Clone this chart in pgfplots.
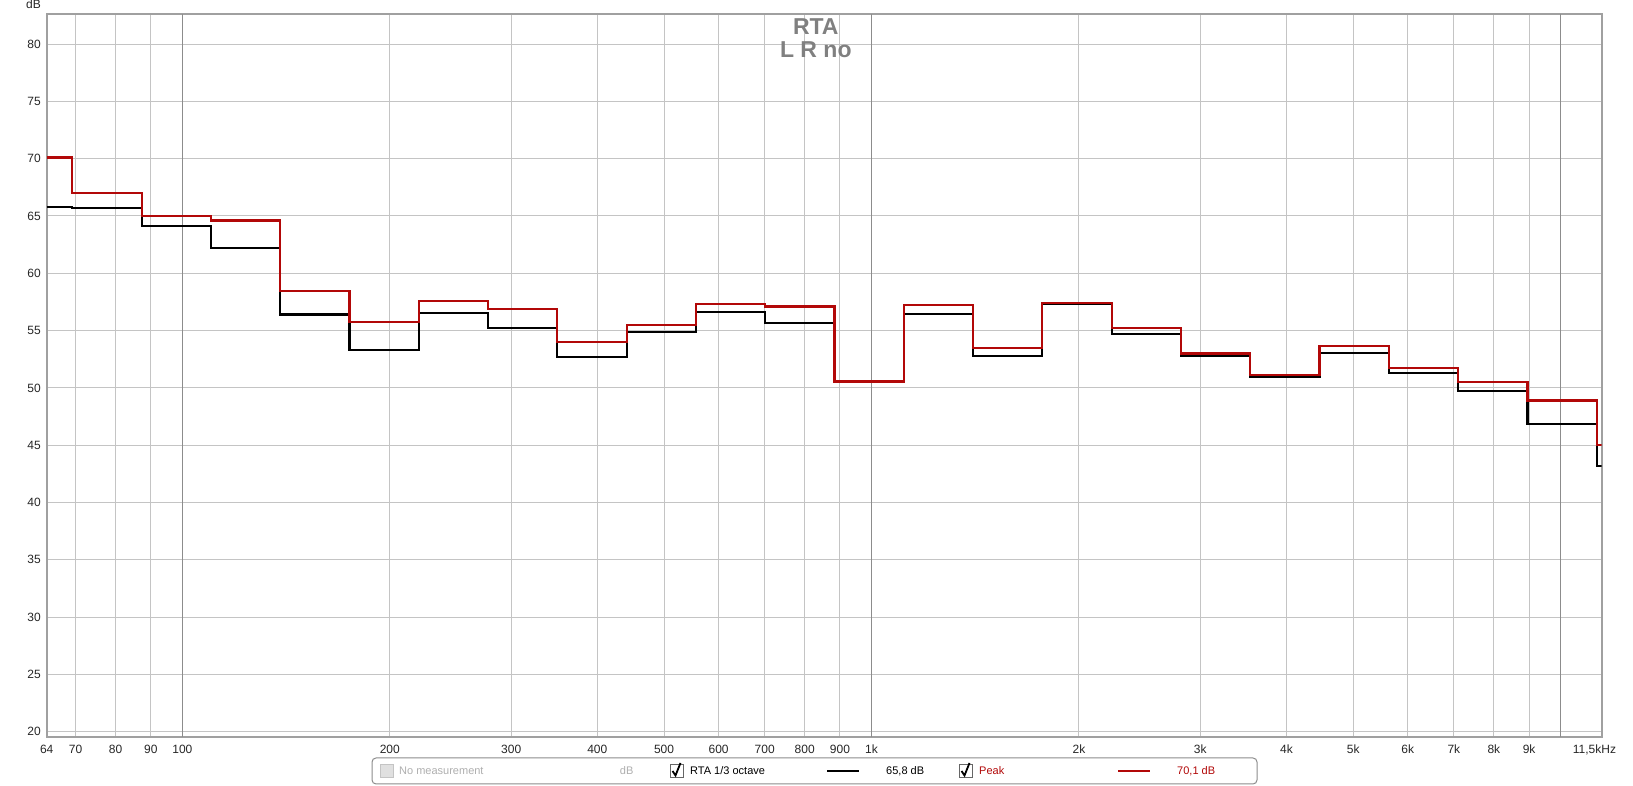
\documentclass[border=0pt]{standalone}
\usepackage{pgfplots}
\pgfplotsset{compat=1.18}
\usepackage{fontspec}
\setmainfont{Liberation Sans}

\definecolor{gridlight}{RGB}{196,196,196}
\definecolor{griddark}{RGB}{140,140,140}
\definecolor{frame}{RGB}{160,160,160}
\definecolor{peakred}{RGB}{178,8,8}
\definecolor{titlegray}{RGB}{128,128,128}
\definecolor{dimgray}{RGB}{175,175,175}

% 1/3 octave RTA (dB)
% each value holds from its x to the next x
\pgfplotstableread{
f      rta
63.56  65.8
69.24  65.7
87.30  64.1
110.0  62.2
138.7  56.4
174.8  53.3
220.4  56.5
277.8  55.25
350.1  52.7
441.3  54.9
556.4  56.65
701.3  55.65
883.9  50.5
1113.9 56.45
1404.4 52.75
1770.0 57.3
2231   54.7
2812   52.8
3545   50.95
4468   53.05
5633   51.3
7101   49.75
8950   46.85
11279  43.2
11470  43.2
}\rtadata

\pgfplotstableread{
f      peak
63.56  70.1
69.24  67.0
87.30  65.0
110.0  64.6
138.7  58.45
174.8  55.75
220.4  57.6
277.8  56.9
350.1  54.0
441.3  55.5
556.4  57.3
701.3  57.1
883.9  50.55
1113.9 57.2
1404.4 53.45
1770.0 57.4
2231   55.25
2812   53.0
3545   51.15
4468   53.65
5633   51.75
7101   50.5
8950   48.9
11279  45.05
11470  45.05
}\peakdata

\begin{document}
\begin{tikzpicture}[x=1pt,y=1pt]
\useasboundingbox (0,0) rectangle (1633,786);

\begin{axis}[
  at={(46.7pt,49pt)}, anchor=south west,
  scale only axis, width=1555pt, height=723pt,
  xmode=log, log basis x=10,
  xmin=63.56, xmax=11470, ymin=19.54, ymax=82.62,
  xtick={63.56,70,80,90,200,300,400,500,600,700,800,900,2000,3000,4000,5000,6000,7000,8000,9000},
  xticklabels={64,70,80,90,200,300,400,500,600,700,800,900,2k,3k,4k,5k,6k,7k,8k,9k},
  extra x ticks={100,1000,10000},
  extra x tick labels={100,1k,{}},
  extra x tick style={grid style={draw=griddark, line width=1pt}},
  minor xtick={}, minor ytick={},
  ytick={20,25,...,80},
  grid=major,
  grid style={draw=gridlight, line width=1pt},
  major tick length=0pt, minor tick length=0pt,
  axis line style={draw=frame, line width=2.2pt},
  /pgf/number format/assume math mode=true,
  tick label style={font=\fontsize{12}{14}\selectfont, text=black!85},
  xticklabel style={anchor=north, inner sep=0pt, yshift=-8pt},
  yticklabel style={anchor=east, inner sep=0pt, xshift=-5.7pt},
]
\addplot[const plot, draw=black, line width=2.2pt] table[x=f, y=rta] {\rtadata};
\addplot[const plot, draw=peakred, line width=2.2pt] table[x=f, y=peak] {\peakdata};
\end{axis}

% unit and last frequency label
\node[anchor=base east, inner sep=0pt, font=\fontsize{12}{14}\selectfont, text=black!85] at (41,777) {dB};
\node[anchor=north, inner sep=0pt, font=\fontsize{12}{14}\selectfont, text=black!85] at (1594.5,41) {11,5kHz};

% title
\node[font=\bfseries\fontsize{23}{26}\selectfont, text=titlegray, inner sep=0pt] at (815.8,759.5) {RTA};
\node[font=\bfseries\fontsize{23}{26}\selectfont, text=titlegray, inner sep=0pt] at (815.8,736.5) {L R no};

% legend panel
\draw[draw=griddark, line width=1pt, rounded corners=4pt, fill=white] (372,2) rectangle (1257,28);
\begin{scope}[font=\fontsize{11}{13}\selectfont]
  \draw[draw=gridlight, fill=black!12, line width=1pt] (380,8.5) rectangle (393,21.5);
  \node[anchor=west, inner sep=0pt, text=dimgray] at (399,15) {No measurement};
  \node[anchor=west, inner sep=0pt, text=dimgray] at (619.7,15) {dB};

  \draw[draw=black!60, fill=white, line width=1pt] (670,8.5) rectangle (683,21.5);
  \draw[black, line width=1.8pt] (672.5,15) -- (675.5,10.5) -- (680.5,23);
  \node[anchor=west, inner sep=0pt, text=black] at (690,15) {RTA 1/3 octave};
  \draw[black, line width=2pt] (827,15) -- (859,15);
  \node[anchor=west, inner sep=0pt, text=black] at (886,15) {65,8 dB};

  \draw[draw=black!60, fill=white, line width=1pt] (959,8.5) rectangle (972,21.5);
  \draw[black, line width=1.8pt] (961.5,15) -- (964.5,10.5) -- (969.5,23);
  \node[anchor=west, inner sep=0pt, text=peakred] at (979,15) {Peak};
  \draw[peakred, line width=2pt] (1118,15) -- (1150,15);
  \node[anchor=west, inner sep=0pt, text=peakred] at (1177,15) {70,1 dB};
\end{scope}
\end{tikzpicture}
\end{document}
